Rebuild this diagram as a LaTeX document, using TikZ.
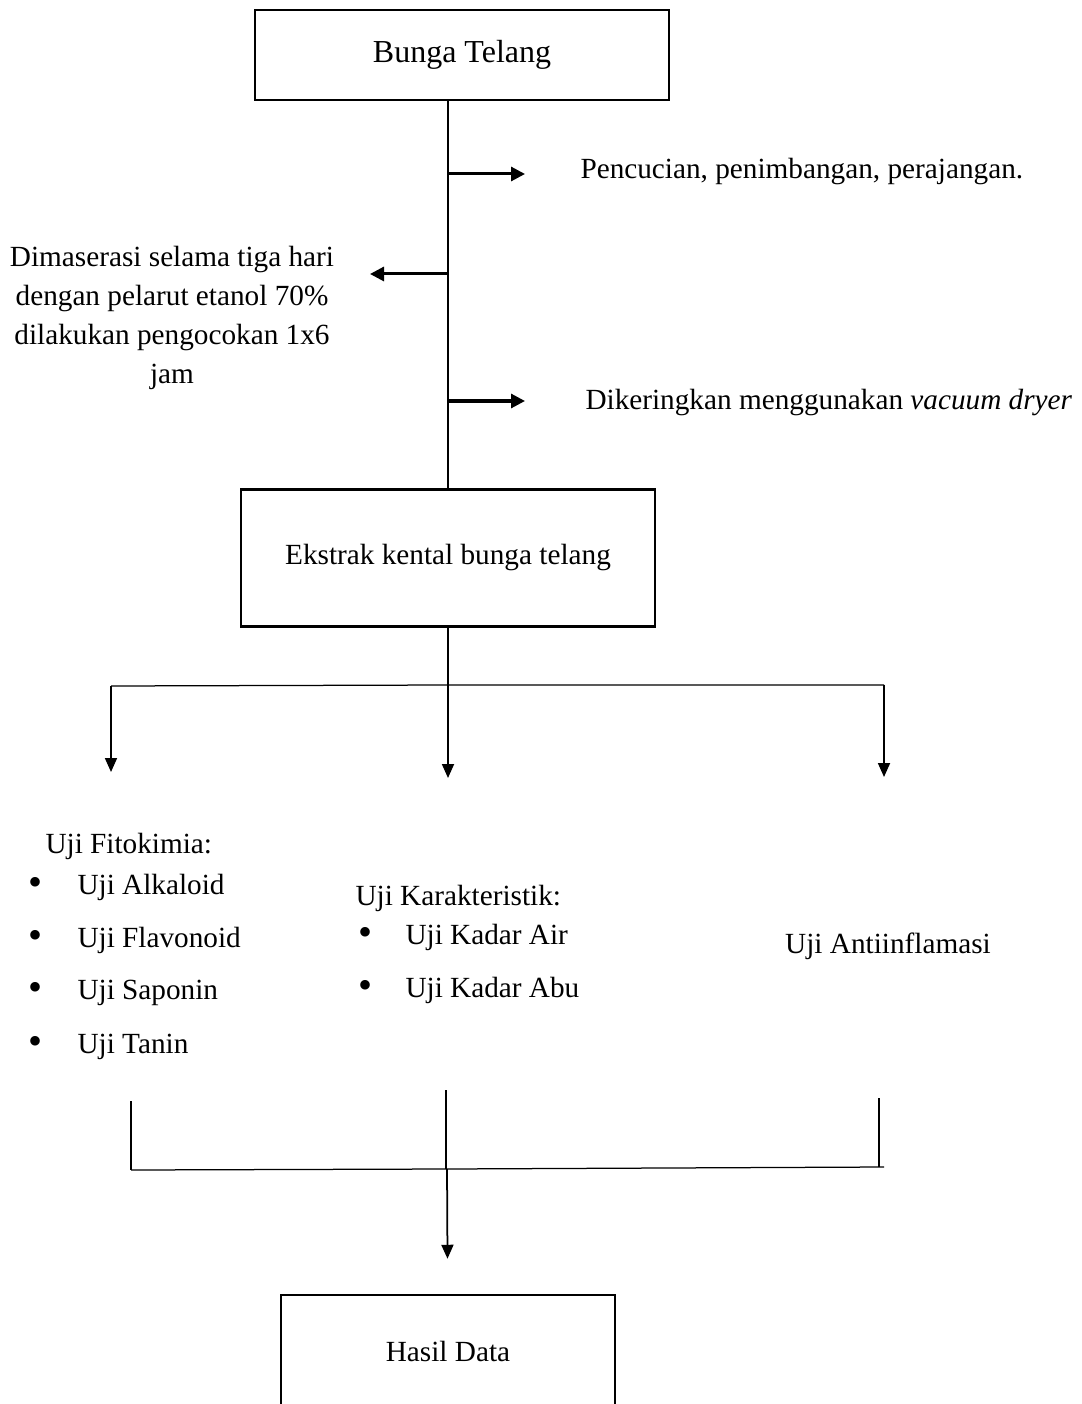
\documentclass[tikz,border=0pt]{standalone}
\usepackage{fontspec}
\setmainfont{Liberation Serif}
\usetikzlibrary{arrows.meta,positioning}
\tikzstyle{stage}=[draw,line width=1pt,inner sep=0pt,font=\fontsize{11.7}{14}\selectfont]
\tikzstyle{note}=[inner sep=0pt,font=\fontsize{11.7}{15.6}\selectfont]
\tikzstyle{link}=[line width=0.5pt]
\tikzstyle{side}=[line width=1.2pt,-{Triangle[length=5.6pt,width=5.6pt]}]
\tikzstyle{down}=[line width=0.7pt,-{Triangle[length=5.6pt,width=4.8pt]}]
\newcommand{\dotitem}[1]{\makebox[#1][l]{\raisebox{-0.5pt}{\fontsize{16}{16}\selectfont•}}}

\begin{document}
\begin{tikzpicture}[x=0.4pt,y=-0.4pt]
  \useasboundingbox (0,0) rectangle (1081,1404);
  \clip (0,0) rectangle (1081,1404);

  \node[stage,minimum width=165.6pt,minimum height=36pt,font=\fontsize{12.8}{14}\selectfont] (telang) at (462,55) {Bunga Telang};
  \node[stage,minimum width=165.6pt,minimum height=54.8pt] (ekstrak) at (448,558)  {Ekstrak kental bunga telang};
  \node[stage,minimum width=133.6pt,minimum height=44.8pt] (hasil)   at (448,1351) {Hasil Data};

  \node[note,anchor=west] (cuci)     at (580,172) {Pencucian, penimbangan, perajangan.};
  \node[note,align=center] (maserasi) at (172,318) {Dimaserasi selama tiga hari\\dengan pelarut etanol 70\%\\dilakukan pengocokan 1x6\\jam};
  \node[note,anchor=west] (kering)   at (585,403) {Dikeringkan menggunakan \textit{vacuum dryer}};

  \node[note,anchor=west] (fito) at (45,846) {Uji Fitokimia:};
  \node[note,anchor=west] (fito1) at (28,887)  {\dotitem{19.6pt}Uji Alkaloid};
  \node[note,anchor=west] (fito2) at (28,940)  {\dotitem{19.6pt}Uji Flavonoid};
  \node[note,anchor=west] (fito3) at (28,993)  {\dotitem{19.6pt}Uji Saponin};
  \node[note,anchor=west] (fito4) at (28,1047) {\dotitem{19.6pt}Uji Tanin};

  \node[note,anchor=west] (karak) at (355,898) {Uji Karakteristik:};
  \node[note,anchor=west] (karak1) at (358,937) {\dotitem{18.8pt}Uji Kadar Air};
  \node[note,anchor=west] (karak2) at (358,990) {\dotitem{18.8pt}Uji Kadar Abu};

  \node[note] (antiinf) at (888,946) {Uji Antiinflamasi};

  \coordinate (c1) at (525,174);
  \coordinate (c2) at (370,274);
  \coordinate (c3) at (525,401);
  \coordinate (split) at (448,685);
  \coordinate (sl) at (111,686);
  \coordinate (sr) at (884,685);
  \coordinate (fa) at (111,772);
  \coordinate (fb) at (448,778);
  \coordinate (fc) at (884,777);
  \coordinate (ma) at (131,1101);
  \coordinate (mb) at (446,1090);
  \coordinate (mc) at (879,1098);
  \coordinate (ja) at (131,1170);
  \coordinate (jm) at (447,1169);
  \coordinate (jc) at (884,1167);

  \draw[link] (telang.south -| ekstrak) -- (ekstrak);
  \draw[side] (ekstrak.north |- c1) -- (c1);
  \draw[side] (ekstrak.north |- c2) -- (c2);
  \draw[side] (ekstrak.north |- c3) -- (c3);

  \draw[link] (ekstrak) -- (split);
  \draw[link] (sl) -- (split) -- (sr);
  \draw[down] (sl) -- (fa);
  \draw[down] (split) -- (fb);
  \draw[down] (sr) -- (fc);

  \draw[link] (ma) -- (ma |- ja);
  \draw[link] (mb) -- (mb |- jm);
  \draw[link] (mc) -- (mc |- jc);
  \draw[link] (ja) -- (jm) -- (jc);
  \draw[down,shorten >=14pt] (jm) -- (hasil);
\end{tikzpicture}
\end{document}
